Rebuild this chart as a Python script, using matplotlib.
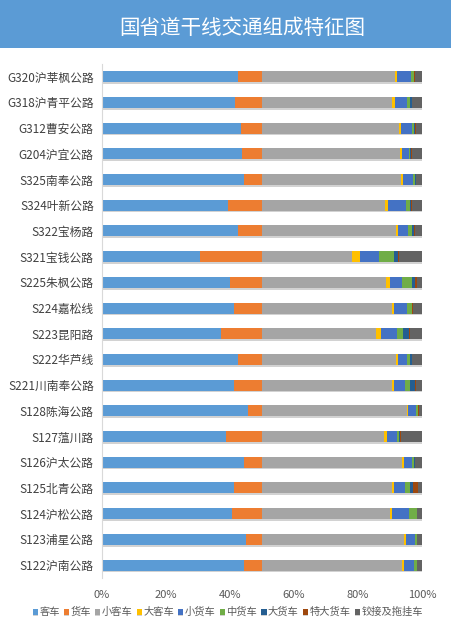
import numpy as np
import matplotlib
matplotlib.use('Agg')
import matplotlib.pyplot as plt
import matplotlib.patheffects as pe
from matplotlib.patches import Rectangle

plt.rcParams['font.family'] = ['Noto Sans CJK SC', 'DejaVu Sans']

# 道路名称 (top to bottom)
roads = ['G320沪莘枫公路', 'G318沪青平公路', 'G312曹安公路', 'G204沪宜公路', 'S325南奉公路',
         'S324叶新公路', 'S322宝杨路', 'S321宝钱公路', 'S225朱枫公路', 'S224嘉松线',
         'S223昆阳路', 'S222华芦线', 'S221川南奉公路', 'S128陈海公路', 'S127蕰川路',
         'S126沪太公路', 'S125北青公路', 'S124沪松公路', 'S123浦星公路', 'S122沪南公路']

# 客车 / 货车 share of traffic (%)
keche = [84.8, 83.4, 86.8, 87.4, 88.6, 78.6, 85.0, 61.2, 79.8, 82.6,
         74.2, 85.0, 82.4, 91.2, 77.8, 88.6, 82.4, 81.2, 90.0, 88.6]
huoche = [15.2, 16.6, 13.2, 12.6, 11.4, 21.4, 15.0, 38.8, 20.2, 17.4,
          25.8, 15.0, 17.6, 8.8, 22.2, 11.4, 17.6, 18.8, 10.0, 11.4]

# vehicle type breakdown (%)
xiaokeche = [83.2, 81.4, 85.6, 86.4, 86.8, 76.8, 84.0, 56.0, 77.5, 81.2,
             71.2, 83.8, 81.4, 90.4, 76.4, 87.2, 81.0, 80.0, 88.8, 87.2]
dakeche = [1.4, 2.0, 1.2, 1.1, 1.6, 2.2, 1.2, 5.2, 2.5, 1.5,
           3.2, 1.2, 1.3, 1.0, 1.6, 1.6, 1.5, 1.2, 1.0, 1.6]
xiaohuoche = [8.6, 7.0, 7.2, 4.1, 6.2, 11.0, 6.2, 12.2, 7.2, 7.7,
              9.8, 5.4, 6.7, 4.8, 6.2, 5.2, 6.9, 10.6, 5.8, 6.2]
zhonghuoche = [1.6, 2.1, 1.0, 1.2, 1.2, 2.7, 2.2, 9.3, 6.4, 3.2,
               4.2, 2.3, 3.3, 1.4, 1.6, 1.0, 3.3, 4.8, 1.0, 1.6]
dahuoche = [0.4, 1.1, 0.6, 0.6, 0.3, 0.6, 1.2, 2.5, 2.0, 0.4,
            3.6, 0.8, 3.0, 0.2, 0.4, 0.4, 1.7, 0.2, 0.2, 0.2]
tedahuoche = [0.4, 0.4, 0.4, 0.4, 0.2, 0.4, 0.6, 0.4, 1.2, 0.4,
              0.4, 0.4, 0.4, 0.2, 0.8, 0.2, 3.2, 0.2, 0.2, 0.2]
jiaojie = [4.4, 6.0, 4.0, 6.2, 3.7, 6.3, 4.6, 14.4, 3.2, 5.6,
           7.6, 6.1, 3.9, 2.0, 13.0, 4.4, 2.4, 3.0, 3.0, 3.0]

labels = ['客车', '货车', '小客车', '大客车', '小货车', '中货车', '大货车', '特大货车', '铰接及拖挂车']
colors = ['#5B9BD5', '#ED7D31', '#A5A5A5', '#FFC000', '#4472C4', '#70AD47', '#255E91', '#9E480E', '#636363']

series = np.array([keche, huoche, xiaokeche, dakeche, xiaohuoche,
                   zhonghuoche, dahuoche, tedahuoche, jiaojie], dtype=float)
# 100% stacked
pct = series / series.sum(axis=0) * 100

fig = plt.figure(figsize=(4.51, 6.37), dpi=100)
fig.patches.append(Rectangle((0, 0.9246), 1, 0.0754, transform=fig.transFigure,
                             facecolor='#5B9BD5', edgecolor='none', zorder=0))
fig.text(0.537, 0.956, '国省道干线交通组成特征图', color='white', fontsize=14.8,
         ha='center', va='center')

ax = fig.add_axes([0.2262, 0.0928, 0.7095, 0.8069])
y = np.arange(len(roads))
left = np.zeros(len(roads))
shadow = [pe.SimplePatchShadow(offset=(0, -1.2), shadow_rgbFace='#7F7F7F', alpha=0.35), pe.Normal()]
for i in range(len(labels)):
    bars = ax.barh(y, pct[i], left=left, height=0.43, color=colors[i], label=labels[i], zorder=2)
    for b in bars:
        b.set_path_effects(shadow)
    left += pct[i]

ax.set_xlim(0, 100)
ax.set_ylim(len(roads) - 0.5, -0.5)
ax.set_yticks(y)
ax.set_yticklabels(roads, fontsize=8.5, color='#404040')
ax.set_xticks(np.arange(0, 101, 20))
ax.set_xticklabels([f'{v}%' for v in range(0, 101, 20)], fontsize=8, color='#595959')
ax.tick_params(length=0, pad=6)
ax.tick_params(axis='x', pad=9)
for s in ['top', 'right', 'bottom']:
    ax.spines[s].set_visible(False)
ax.spines['left'].set_color('#D9D9D9')

fig.legend(loc='center', bbox_to_anchor=(0.505, 0.039), ncol=9, frameon=False,
           fontsize=7.4, handlelength=0.5, handleheight=0.5, handletextpad=0.15,
           columnspacing=0.4, labelcolor='#595959')

fig.savefig('out.png', dpi=100)
